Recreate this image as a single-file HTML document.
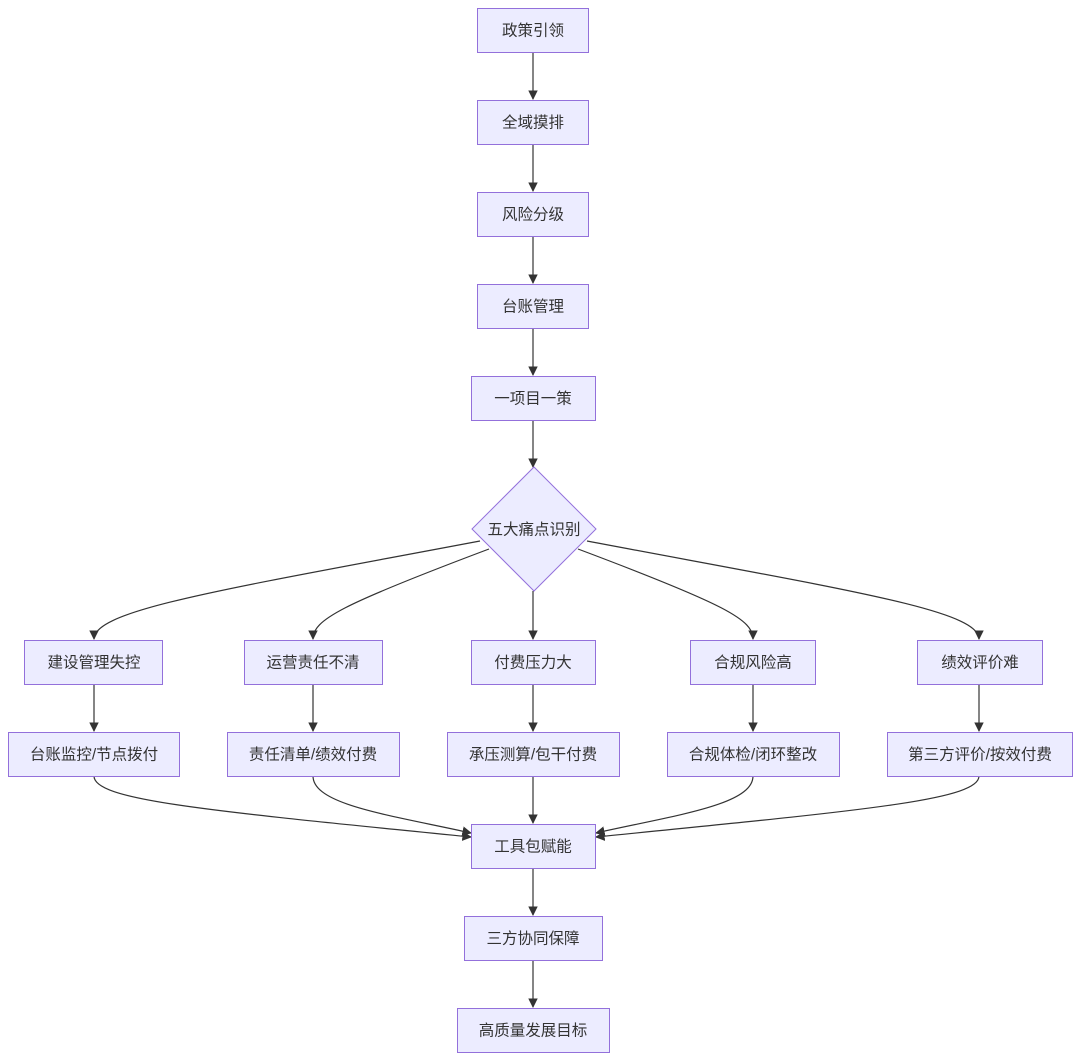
<!DOCTYPE html>
<html><head><meta charset="utf-8"><style>
html,body{margin:0;padding:0;background:#fff;}
svg{display:block;}
text{font-family:"Liberation Sans","Noto Sans CJK SC",sans-serif;font-size:15.5px;fill:#333;text-anchor:middle;dominant-baseline:central;}
.n{fill:#ECECFF;stroke:#9370DB;stroke-width:1;}
.e{fill:none;stroke:#333;stroke-width:1.2;}
</style></head><body>
<svg width="1080" height="1059" viewBox="0 0 1080 1059" xmlns="http://www.w3.org/2000/svg">
<defs><marker id="a" viewBox="0 0 10 10" refX="9" refY="5" markerWidth="8" markerHeight="8" orient="auto-start-reverse"><path d="M0,0L10,5L0,10z" fill="#333"/></marker></defs>
<g class="e">
<path d="M533,52V99" marker-end="url(#a)"/>
<path d="M533,144V191" marker-end="url(#a)"/>
<path d="M533,236V283" marker-end="url(#a)"/>
<path d="M533,328V375" marker-end="url(#a)"/>
<path d="M533,420V467" marker-end="url(#a)"/>
<path d="M480,541 C220,590 94,610 94,639" marker-end="url(#a)"/>
<path d="M489,549 C340,605 313,620 313,639" marker-end="url(#a)"/>
<path d="M533,591V639" marker-end="url(#a)"/>
<path d="M578,549 C727,605 753,620 753,639" marker-end="url(#a)"/>
<path d="M587,541 C846,590 979,610 979,639" marker-end="url(#a)"/>
<path d="M94,684V731" marker-end="url(#a)"/>
<path d="M313,684V731" marker-end="url(#a)"/>
<path d="M533,684V731" marker-end="url(#a)"/>
<path d="M753,684V731" marker-end="url(#a)"/>
<path d="M979,684V731" marker-end="url(#a)"/>
<path d="M94,776 C94,800 200,810 471,837" marker-end="url(#a)"/>
<path d="M313,776 C313,805 390,815 471,833" marker-end="url(#a)"/>
<path d="M533,776V823" marker-end="url(#a)"/>
<path d="M753,776 C753,805 676,815 596,833" marker-end="url(#a)"/>
<path d="M979,776 C979,800 866,810 596,837" marker-end="url(#a)"/>
<path d="M533,868V915" marker-end="url(#a)"/>
<path d="M533,960V1007" marker-end="url(#a)"/>
</g>
<rect class="n" x="477.5" y="8.5" width="111" height="44"/><text x="533" y="31">政策引领</text>
<rect class="n" x="477.5" y="100.5" width="111" height="44"/><text x="533" y="123">全域摸排</text>
<rect class="n" x="477.5" y="192.5" width="111" height="44"/><text x="533" y="215">风险分级</text>
<rect class="n" x="477.5" y="284.5" width="111" height="44"/><text x="533" y="307">台账管理</text>
<rect class="n" x="471.5" y="376.5" width="124" height="44"/><text x="533" y="399">一项目一策</text>
<path class="n" d="M534,467L596,529L534,591L472,529Z"/><text x="534" y="530">五大痛点识别</text>
<rect class="n" x="24.5" y="640.5" width="138" height="44"/><text x="94" y="663">建设管理失控</text>
<rect class="n" x="244.5" y="640.5" width="138" height="44"/><text x="313" y="663">运营责任不清</text>
<rect class="n" x="471.5" y="640.5" width="124" height="44"/><text x="533" y="663">付费压力大</text>
<rect class="n" x="690.5" y="640.5" width="125" height="44"/><text x="753" y="663">合规风险高</text>
<rect class="n" x="917.5" y="640.5" width="125" height="44"/><text x="980" y="663">绩效评价难</text>
<rect class="n" x="8.5" y="732.5" width="171" height="44"/><text x="94" y="755">台账监控/节点拨付</text>
<rect class="n" x="227.5" y="732.5" width="172" height="44"/><text x="313" y="755">责任清单/绩效付费</text>
<rect class="n" x="447.5" y="732.5" width="172" height="44"/><text x="533" y="755">承压测算/包干付费</text>
<rect class="n" x="667.5" y="732.5" width="172" height="44"/><text x="753" y="755">合规体检/闭环整改</text>
<rect class="n" x="887.5" y="732.5" width="185" height="44"/><text x="980" y="755">第三方评价/按效付费</text>
<rect class="n" x="471.5" y="824.5" width="124" height="44"/><text x="533" y="847">工具包赋能</text>
<rect class="n" x="464.5" y="916.5" width="138" height="44"/><text x="533" y="939">三方协同保障</text>
<rect class="n" x="457.5" y="1008.5" width="152" height="44"/><text x="533" y="1031">高质量发展目标</text>
</svg>
</body></html>
